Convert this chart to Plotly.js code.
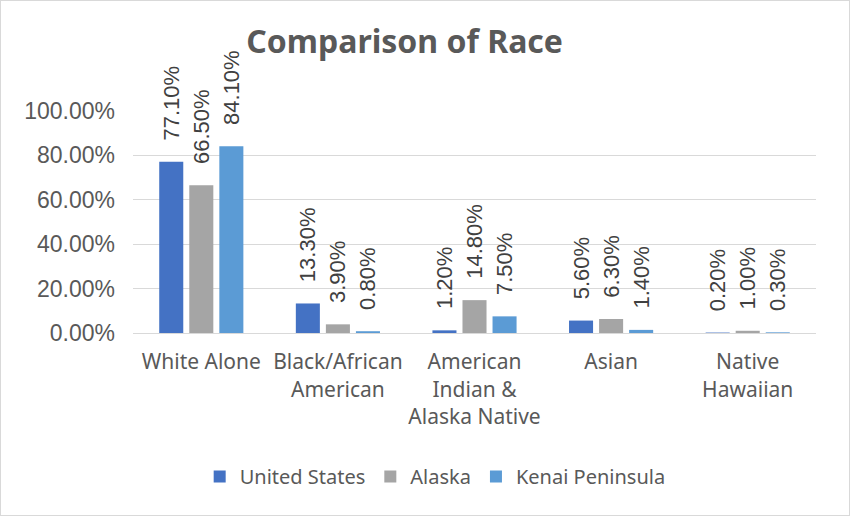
<!DOCTYPE html>
<html>
<head>
<meta charset="utf-8">
<script src="https://cdn.plot.ly/plotly-3.0.1.min.js"></script>
<style>
html,body{margin:0;padding:0;background:#fff;}
#chart{width:848px;height:514px;border:1px solid #d9d9d9;}
</style>
</head>
<body>
<div id="chart"></div>
<script>
const categories = ["White Alone", "Black/African<br>American", "American<br>Indian &<br>Alaska Native", "Asian", "Native<br>Hawaiian"];
const seriesNames = ["United States", "Alaska", "Kenai Peninsula"];
const unitedStates = [0.771, 0.133, 0.012, 0.056, 0.002];
const alaska = [0.665, 0.039, 0.148, 0.063, 0.010];
const kenai = [0.841, 0.008, 0.075, 0.014, 0.003];
const colors = ["#4472C4", "#A5A5A5", "#5B9BD5"];
const yTicks = [0, 0.2, 0.4, 0.6, 0.8, 1.0];

const pad = "\u00a0\u00a0\u00a0";
const seriesValues = [unitedStates, alaska, kenai];
const traces = seriesValues.map((vals, i) => ({
  type: "bar",
  name: seriesNames[i],
  x: categories,
  y: vals,
  marker: {color: colors[i]},
  text: vals.map(v => pad + (v * 100).toFixed(2) + "%"),
  textposition: "outside",
  textangle: -90,
  constraintext: "none",
  cliponaxis: false,
  textfont: {family: "Liberation Sans, Arial, sans-serif", size: 22, color: "#404040"},
  hoverinfo: "skip"
}));

const layout = {
  width: 848, height: 514,
  margin: {l: 132, r: 33, t: 110, b: 182},
  paper_bgcolor: "#fff", plot_bgcolor: "#fff",
  barmode: "group",
  bargap: 0.34,
  bargroupgap: 0.2,
  title: {
    text: "<b>Comparison of Race</b>",
    font: {family: "Noto Sans, Open Sans, sans-serif", size: 32, color: "#595959"},
    x: 0.476, xref: "container", xanchor: "center",
    y: 0.92, yref: "container", yanchor: "middle"
  },
  xaxis: {
    showgrid: false,
    showline: true, linecolor: "#d9d9d9", linewidth: 1,
    ticks: "",
    ticklabelstandoff: 10,
    tickfont: {family: "Noto Sans, Open Sans, sans-serif", size: 21, color: "#595959"},
    automargin: false
  },
  yaxis: {
    range: [0, 1.0],
    tickvals: yTicks,
    tickformat: ".2%",
    showgrid: true, gridcolor: "#d9d9d9", gridwidth: 1,
    zeroline: false,
    showline: false,
    ticks: "",
    ticklabelstandoff: 17,
    tickfont: {family: "Liberation Sans, Arial, sans-serif", size: 23, color: "#595959"},
    automargin: false
  },
  legend: {
    orientation: "h",
    x: 0.512, xref: "container", xanchor: "center",
    y: 0.075, yref: "container", yanchor: "middle",
    font: {family: "Noto Sans, Open Sans, sans-serif", size: 20, color: "#595959"},
    itemwidth: 30,
    traceorder: "normal"
  },
  showlegend: true
};

Plotly.newPlot("chart", traces, layout, {displayModeBar: false, staticPlot: true});
</script>
</body>
</html>
